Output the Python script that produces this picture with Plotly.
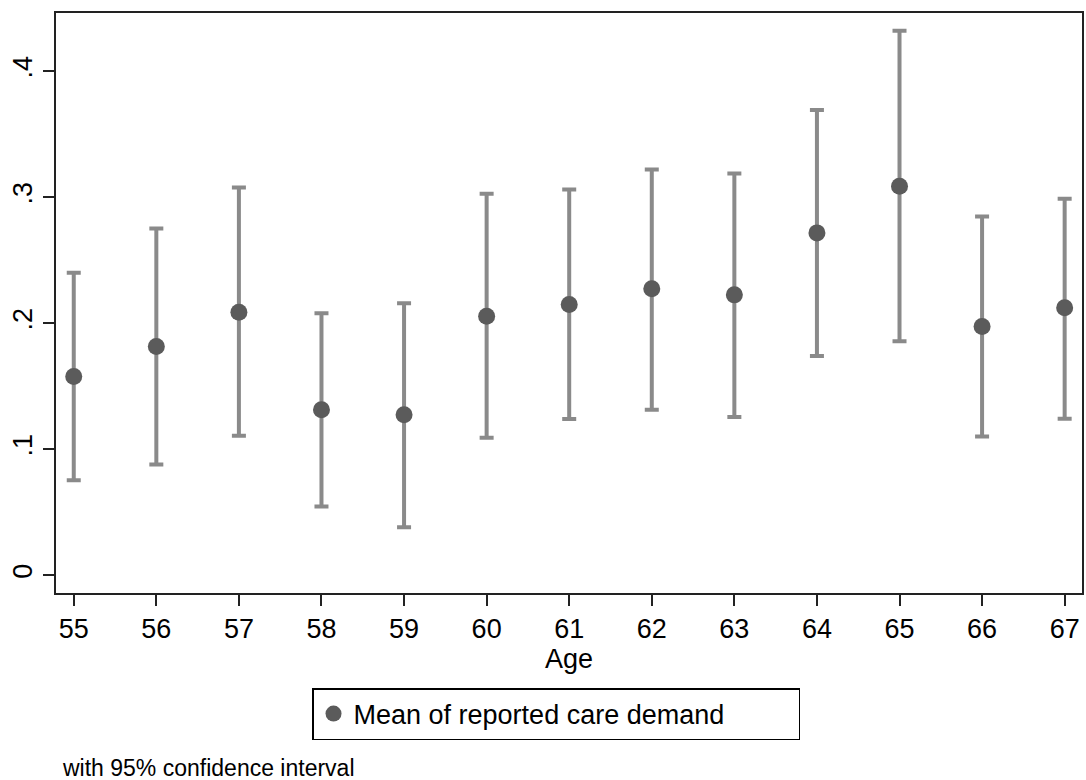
import plotly.graph_objects as go

ages = [55, 56, 57, 58, 59, 60, 61, 62, 63, 64, 65, 66, 67]
mean_demand = [0.1578, 0.1816, 0.2088, 0.1314, 0.1275, 0.2057, 0.2150, 0.2274, 0.2226, 0.2718, 0.3088, 0.1975, 0.2123]
ci_upper = [0.2401, 0.2752, 0.3078, 0.2081, 0.2160, 0.3028, 0.3062, 0.3220, 0.3189, 0.3694, 0.4323, 0.2847, 0.2988]
ci_lower = [0.0754, 0.0880, 0.1108, 0.0547, 0.0381, 0.1092, 0.1240, 0.1314, 0.1256, 0.1740, 0.1858, 0.1103, 0.1243]
y_tick_vals = [0, 0.1, 0.2, 0.3, 0.4]
y_tick_text = ["0", ".1", ".2", ".3", ".4"]

err_plus = [u - m for u, m in zip(ci_upper, mean_demand)]
err_minus = [m - l for m, l in zip(mean_demand, ci_lower)]

FONT = "Liberation Sans, Arial, sans-serif"

fig = go.Figure()
fig.add_trace(go.Scatter(
    x=ages, y=mean_demand, mode="markers",
    name="Mean of reported care demand",
    marker=dict(color="#5b5b5b", size=17),
    error_y=dict(type="data", array=err_plus, arrayminus=err_minus,
                 color="#8a8a8a", thickness=4, width=7),
))

W, H = 1086, 780
L, R, T, B = 56, 2, 13, 187
pw = W - L - R
ph = H - T - B

def px_to_paper_x(px):
    return (px - L) / pw

def px_to_paper_y(py):
    return (H - B - py) / ph

fig.update_layout(
    width=W, height=H,
    margin=dict(l=L, r=R, t=T, b=B),
    paper_bgcolor="white", plot_bgcolor="white",
    font=dict(family=FONT, color="black", size=27),
    showlegend=True,
    legend=dict(
        orientation="h",
        x=px_to_paper_x(557), xanchor="center",
        y=px_to_paper_y(688), yanchor="top",
        bordercolor="black", borderwidth=1.5,
        font=dict(size=27, family=FONT),
        entrywidth=440,
    ),
    xaxis=dict(
        range=[54.785, 67.21], tickmode="array", tickvals=ages,
        ticks="outside", ticklen=11, tickwidth=1.5, tickcolor="#222",
        showline=True, linecolor="#222", linewidth=2, mirror=True,
        showgrid=False, zeroline=False,
        tickfont=dict(size=27),
        title=dict(text="Age", font=dict(size=27), standoff=2),
    ),
    yaxis=dict(
        range=[-0.014, 0.4463], tickmode="array", tickvals=y_tick_vals, ticktext=y_tick_text,
        ticks="outside", ticklen=11, tickwidth=1.5, tickcolor="#222",
        showline=True, linecolor="#222", linewidth=2, mirror=True,
        showgrid=False, zeroline=False, tickangle=-90,
        tickfont=dict(size=27),
    ),
    annotations=[dict(
        text="with 95% confidence interval", xref="paper", yref="paper",
        x=px_to_paper_x(60), y=px_to_paper_y(768), xanchor="left", yanchor="middle",
        showarrow=False, font=dict(size=23, family=FONT),
    )],
)

fig.write_html(
    "out.html",
    config={"displayModeBar": False},
    post_script="document.body.style.margin='0';document.body.style.overflow='hidden';",
)
